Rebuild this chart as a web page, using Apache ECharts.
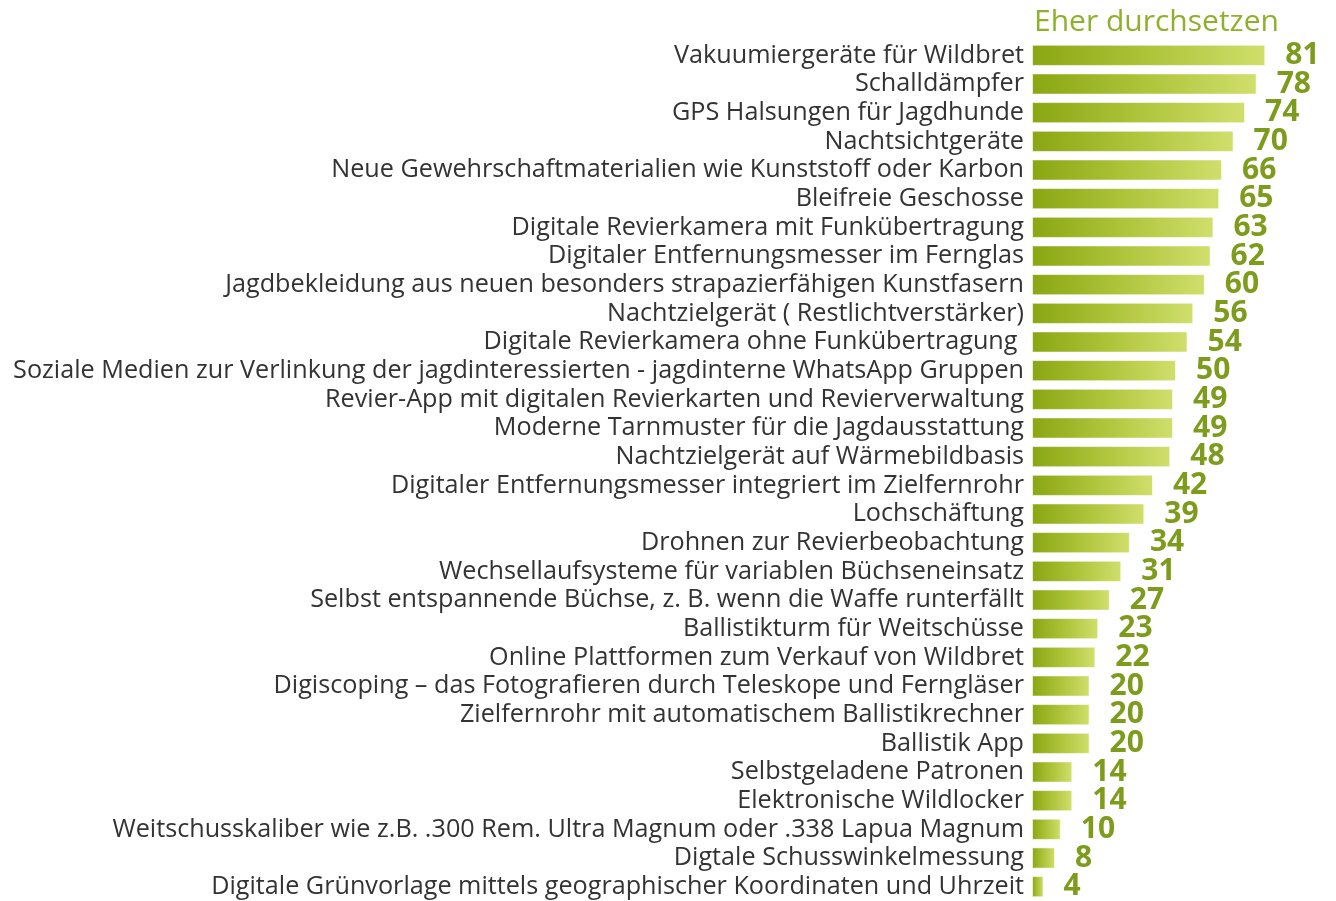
<!DOCTYPE html>
<html>
<head>
<meta charset="utf-8">
<script src="https://cdn.jsdelivr.net/npm/echarts@6/dist/echarts.min.js"></script>
<style>
  html, body { margin: 0; padding: 0; background: #fff; }
  #main { width: 1336px; height: 901px; }
</style>
</head>
<body>
<div id="main"></div>
<script>
// Kategorien (von oben nach unten)
var categories = [
  'Vakuumiergeräte für Wildbret',
  'Schalldämpfer',
  'GPS Halsungen für Jagdhunde',
  'Nachtsichtgeräte',
  'Neue Gewehrschaftmaterialien wie Kunststoff oder Karbon',
  'Bleifreie Geschosse',
  'Digitale Revierkamera mit Funkübertragung',
  'Digitaler Entfernungsmesser im Fernglas',
  'Jagdbekleidung aus neuen besonders strapazierfähigen Kunstfasern',
  'Nachtzielgerät ( Restlichtverstärker)',
  'Digitale Revierkamera ohne Funkübertragung ',
  'Soziale Medien zur Verlinkung der jagdinteressierten - jagdinterne WhatsApp Gruppen',
  'Revier-App mit digitalen Revierkarten und Revierverwaltung',
  'Moderne Tarnmuster für die Jagdausstattung',
  'Nachtzielgerät auf Wärmebildbasis',
  'Digitaler Entfernungsmesser integriert im Zielfernrohr',
  'Lochschäftung',
  'Drohnen zur Revierbeobachtung',
  'Wechsellaufsysteme für variablen Büchseneinsatz',
  'Selbst entspannende Büchse, z. B. wenn die Waffe runterfällt',
  'Ballistikturm für Weitschüsse',
  'Online Plattformen zum Verkauf von Wildbret',
  'Digiscoping – das Fotografieren durch Teleskope und Ferngläser',
  'Zielfernrohr mit automatischem Ballistikrechner',
  'Ballistik App',
  'Selbstgeladene Patronen',
  'Elektronische Wildlocker',
  'Weitschusskaliber wie z.B. .300 Rem. Ultra Magnum oder .338 Lapua Magnum',
  'Digtale Schusswinkelmessung',
  'Digitale Grünvorlage mittels geographischer Koordinaten und Uhrzeit'
];
// Eher durchsetzen (%)
var values = [81, 78, 74, 70, 66, 65, 63, 62, 60, 56, 54, 50, 49, 49, 48, 42, 39, 34, 31, 27, 23, 22, 20, 20, 20, 14, 14, 10, 8, 4];
var titleText = 'Eher durchsetzen';

var chart = echarts.init(document.getElementById('main'));

var option = {
  animation: false,
  title: {
    text: titleText,
    left: 1029,
    top: 2,
    textStyle: {
      fontFamily: 'Open Sans',
      fontSize: 30,
      fontWeight: 'normal',
      color: '#8fb02a'
    }
  },
  grid: {
    left: 1032,
    top: 41,
    width: 288,
    height: 860,
    containLabel: false
  },
  xAxis: {
    type: 'value',
    min: 0,
    max: 100,
    show: false
  },
  yAxis: {
    type: 'category',
    data: categories,
    inverse: true,
    axisLine: { show: false },
    axisTick: { show: false },
    axisLabel: {
      interval: 0,
      margin: 8,
      padding: [4, 0, 0, 0],
      fontFamily: 'Open Sans',
      fontSize: 25.2,
      color: '#333333'
    }
  },
  series: [
    {
      type: 'bar',
      data: values,
      barCategoryGap: '26%',
      itemStyle: {
        borderColor: 'rgba(255,255,255,0.6)',
        borderWidth: 1,
        color: new echarts.graphic.LinearGradient(0, 0, 1, 0, [
          { offset: 0, color: '#8aa612' },
          { offset: 0.5, color: '#aec43a' },
          { offset: 1, color: '#d0df6c' }
        ])
      },
      label: {
        show: true,
        position: 'right',
        distance: 20,
        fontFamily: 'Open Sans',
        fontWeight: 'bold',
        fontSize: 30,
        color: '#7d9c1c'
      }
    }
  ]
};

chart.setOption(option);
</script>
</body>
</html>
